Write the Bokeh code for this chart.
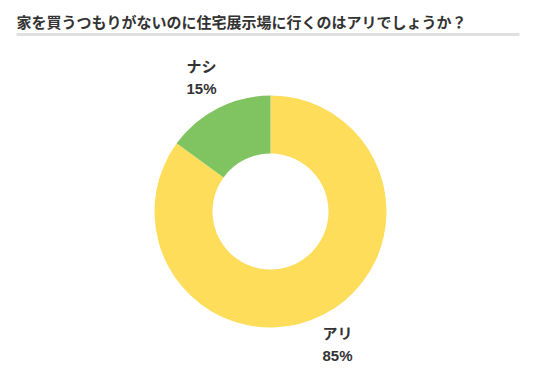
import math
from bokeh.plotting import figure
from bokeh.models import Range1d, ColumnDataSource
from bokeh.core.properties import value
from bokeh.embed import file_html
from bokeh.resources import INLINE

# ---- data ----
title_text = "家を買うつもりがないのに住宅展示場に行くのはアリでしょうか？"
categories = ["アリ", "ナシ"]
percents = [85, 15]
colors = ["#fedd5a", "#80c462"]

# ---- layout (figure pixels, data units == pixels) ----
W, H = 541, 375


def X(px):
    return px


def Y(py):
    return H - py


cx, cy = X(270), Y(211)
r_out, r_in = 116, 58

p = figure(width=W, height=H, x_range=Range1d(0, W), y_range=Range1d(0, H),
           output_backend="svg", toolbar_location=None, min_border=0,
           x_axis_type=None, y_axis_type=None)
p.grid.visible = False
p.outline_line_color = None
p.background_fill_color = "white"
p.border_fill_color = "white"

# wedges: clockwise from 12 o'clock
total = sum(percents)
starts, ends = [], []
acc = 0.0
for v in percents:
    a0 = math.pi / 2 - 2 * math.pi * acc / total
    acc += v
    a1 = math.pi / 2 - 2 * math.pi * acc / total
    starts.append(a0)
    ends.append(a1)

src = ColumnDataSource(dict(cat=categories, pct=percents, start=starts, end=ends, color=colors,
                            x=[cx] * len(categories), y=[cy] * len(categories)))
p.annular_wedge(x="x", y="y", inner_radius=r_in, outer_radius=r_out,
                start_angle="start", end_angle="end", direction="clock",
                fill_color="color", line_color=None, source=src)

# title
p.text(x=[X(16)], y=[Y(21)], text=[title_text], text_font=value("Noto Sans CJK JP"),
       text_font_size="15px", text_font_style="bold", text_color="#333333",
       text_baseline="middle", text_align="left")
p.segment(x0=[X(16)], y0=[Y(34)], x1=[X(519)], y1=[Y(34)], line_color="#e0e0e0", line_width=3)

# labels
label_pos = {"ナシ": (186, 65), "アリ": (322, 332)}
for c, v in zip(categories, percents):
    lx, ly = label_pos[c]
    p.text(x=[X(lx)], y=[Y(ly)], text=[c], text_font=value("Noto Sans CJK JP"),
           text_font_size="15px", text_font_style="bold", text_color="#333333",
           text_baseline="middle", text_align="left")
    p.text(x=[X(lx)], y=[Y(ly + 23)], text=[f"{v}%"], text_font=value("Liberation Sans"),
           text_font_size="15px", text_font_style="bold", text_color="#333333",
           text_baseline="middle", text_align="left")

open("out.html", "w").write(file_html(p, INLINE))
